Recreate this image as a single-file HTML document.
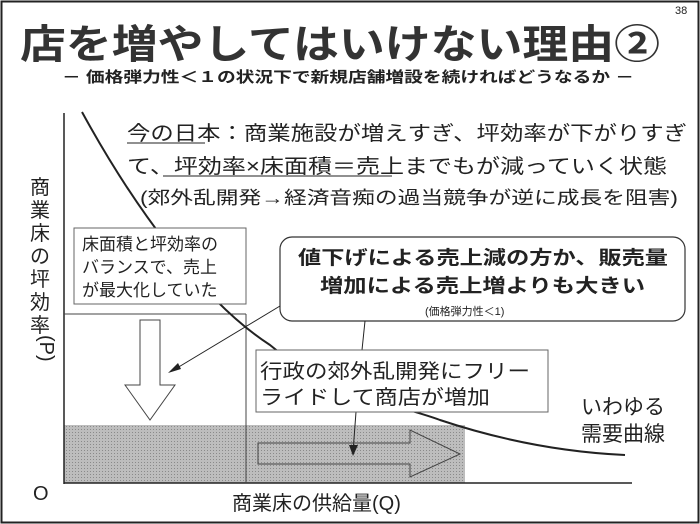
<!DOCTYPE html>
<html><head><meta charset="utf-8"><style>
html,body{margin:0;padding:0;background:#fff;}
svg{display:block;font-family:"Liberation Sans","Noto Sans CJK JP",sans-serif;}
</style></head><body>
<svg width="700" height="524" viewBox="0 0 700 524" xmlns="http://www.w3.org/2000/svg">
<defs>
<pattern id="dots" width="3" height="3" patternUnits="userSpaceOnUse">
<rect width="3" height="3" fill="#bdbdbd"/><rect width="1" height="1" fill="#8a8a8a"/>
</pattern>
</defs>
<rect x="1.5" y="1.5" width="697" height="521" fill="#fff" stroke="#222" stroke-width="2"/>
<text x="675" y="14" font-size="11" fill="#222">38</text>
<text x="20" y="58" font-size="40" font-weight="bold" fill="#333" textLength="640" lengthAdjust="spacingAndGlyphs">店を増やしてはいけない理由②</text>
<text x="62" y="82" font-size="15" font-weight="bold" fill="#222" textLength="572" lengthAdjust="spacingAndGlyphs">－ 価格弾力性＜１の状況下で新規店舗増設を続ければどうなるか －</text>

<rect x="64" y="425" width="401" height="58" fill="url(#dots)"/>
<line x1="64" y1="113" x2="64" y2="484" stroke="#222" stroke-width="1.5"/>
<line x1="64" y1="483" x2="632" y2="483" stroke="#222" stroke-width="1.5"/>
<line x1="64" y1="314" x2="246" y2="314" stroke="#444" stroke-width="1"/>
<line x1="246" y1="314" x2="246" y2="483" stroke="#444" stroke-width="1"/>
<path d="M82,112 C130,200 200,300 270,345 C330,395 400,405 440,420 C500,440 560,452 625,455" fill="none" stroke="#222" stroke-width="2"/>

<text x="127" y="140" font-size="20" fill="#222" textLength="560" lengthAdjust="spacingAndGlyphs">今の日本：商業施設が増えすぎ、坪効率が下がりすぎ</text>
<line x1="127" y1="143" x2="205" y2="143" stroke="#222"/>
<text x="127" y="173" font-size="20" fill="#222" textLength="540" lengthAdjust="spacingAndGlyphs">て、坪効率×床面積＝売上までもが減っていく状態</text>
<line x1="163" y1="176" x2="392" y2="176" stroke="#222"/>
<text x="140" y="204" font-size="18" fill="#222" textLength="538" lengthAdjust="spacingAndGlyphs">(郊外乱開発→経済音痴の過当競争が逆に成長を阻害)</text>

<g font-size="20" fill="#222">
<text x="30" y="194">商</text><text x="30" y="217">業</text><text x="30" y="240">床</text><text x="30" y="263">の</text><text x="30" y="286">坪</text><text x="30" y="309">効</text><text x="30" y="332">率</text>
</g>
<text x="30" y="345" font-size="20" fill="#222" transform="rotate(90 40 345)">(P)</text>

<rect x="74" y="228" width="172" height="76" fill="#fff" stroke="#666"/>
<text x="82" y="250" font-size="17" fill="#222">床面積と坪効率の</text>
<text x="82" y="273" font-size="17" fill="#222">バランスで、売上</text>
<text x="82" y="296" font-size="17" fill="#222">が最大化していた</text>

<rect x="280" y="237" width="405" height="84" rx="12" fill="#fff" stroke="#333" stroke-width="1.2"/>
<text x="298" y="264" font-size="19" font-weight="bold" fill="#222" textLength="370" lengthAdjust="spacingAndGlyphs">値下げによる売上減の方か、販売量</text>
<text x="320" y="292" font-size="19" font-weight="bold" fill="#222" textLength="325" lengthAdjust="spacingAndGlyphs">増加による売上増よりも大きい</text>
<text x="425" y="315" font-size="11" fill="#222">(価格弾力性＜1)</text>

<line x1="280" y1="306" x2="172" y2="371" stroke="#222"/>
<polygon points="168,373 178,363 181,369" fill="#222"/>
<line x1="365" y1="321" x2="362" y2="350" stroke="#222"/>
<line x1="356" y1="412" x2="353" y2="452" stroke="#222"/>
<polygon points="353,456 349,445 358,445" fill="#222"/>

<polygon points="140,320 160,320 160,385 175,385 150,420 125,385 140,385" fill="#fff" stroke="#444"/>
<polygon points="258,443 410,443 410,430 460,454 410,477 410,464 258,464" fill="none" stroke="#444"/>

<rect x="256" y="350" width="292" height="62" fill="#fff" stroke="#666"/>
<text x="260" y="378" font-size="20" fill="#222" textLength="270" lengthAdjust="spacingAndGlyphs">行政の郊外乱開発にフリー</text>
<text x="260" y="404" font-size="20" fill="#222" textLength="230" lengthAdjust="spacingAndGlyphs">ライドして商店が増加</text>

<text x="581" y="414" font-size="21" fill="#222">いわゆる</text>
<text x="581" y="441" font-size="21" fill="#222">需要曲線</text>
<text x="33" y="500" font-size="20" fill="#222">O</text>
<text x="232" y="510" font-size="20" fill="#222">商業床の供給量(Q)</text>
</svg>
</body></html>
